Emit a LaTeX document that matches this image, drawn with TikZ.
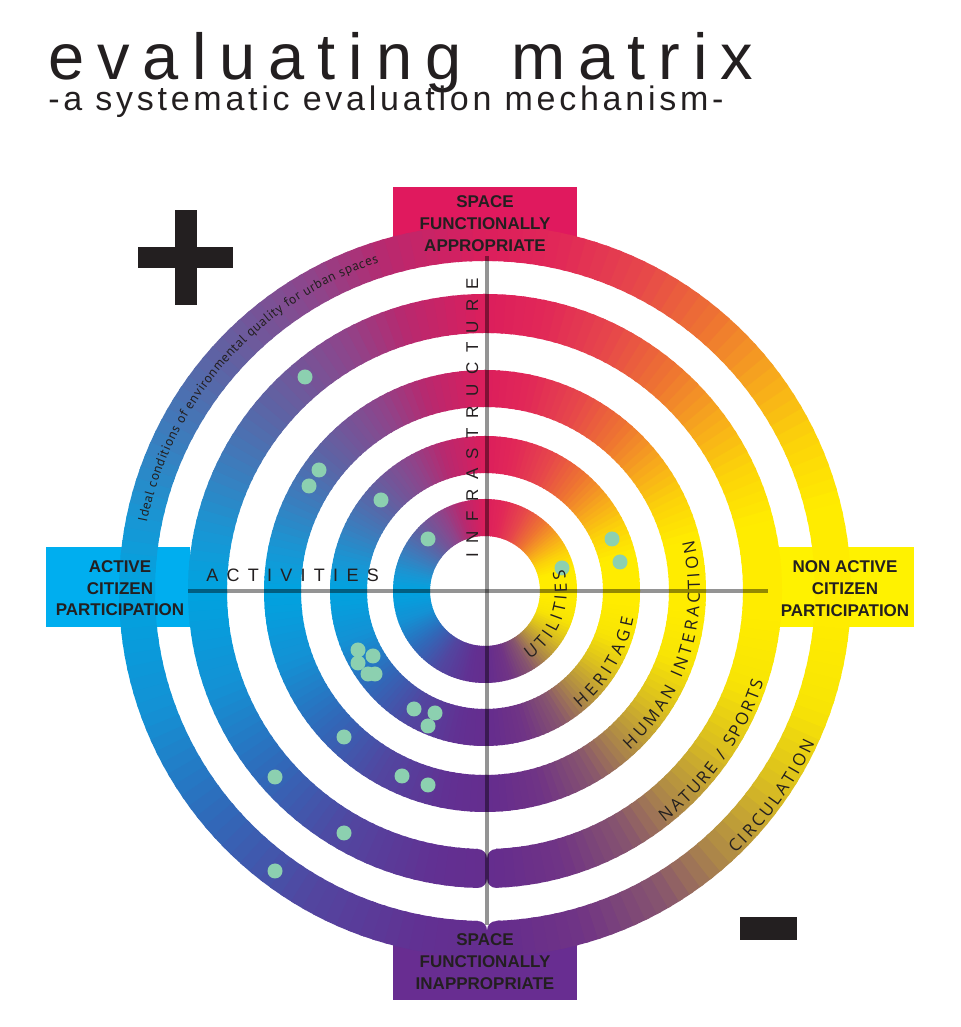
\documentclass[tikz,border=0pt]{standalone}
\usepackage{fontspec}
\setmainfont{Liberation Sans}
\newfontfamily\titlefont{Liberation Sans}[LetterSpace=20]
\newfontfamily\subfont{Liberation Sans}[LetterSpace=11]
\newfontfamily\infrafont{Liberation Sans}[LetterSpace=56]
\newfontfamily\actfont{Liberation Sans}[LetterSpace=46]
\newfontfamily\arcfont{Open Sans}
\newfontfamily\idealfont{PT Sans}
\usetikzlibrary{decorations.text}

\definecolor{txt}{RGB}{35,31,32}
\definecolor{pinkbox}{RGB}{224,25,94}
\definecolor{purplebox}{RGB}{104,45,145}
\definecolor{cyanbox}{RGB}{0,174,239}
\definecolor{yellowbox}{RGB}{255,242,0}
\definecolor{mint}{RGB}{140,208,176}
% conic gradient stops
\definecolor{s0}{RGB}{0,163,224}
\definecolor{s1}{RGB}{20,145,212}
\definecolor{s2}{RGB}{48,105,185}
\definecolor{s3}{RGB}{82,70,160}
\definecolor{s4}{RGB}{98,48,146}
\definecolor{s5}{RGB}{101,45,142}
\definecolor{s6}{RGB}{112,52,133}
\definecolor{s7}{RGB}{135,85,110}
\definecolor{s8}{RGB}{175,138,70}
\definecolor{s9}{RGB}{218,190,32}
\definecolor{s10}{RGB}{248,228,5}
\definecolor{s11}{RGB}{255,236,0}
\definecolor{s12}{RGB}{255,236,0}
\definecolor{s13}{RGB}{252,210,10}
\definecolor{s14}{RGB}{246,165,30}
\definecolor{s15}{RGB}{238,115,50}
\definecolor{s16}{RGB}{230,70,75}
\definecolor{s17}{RGB}{225,40,88}
\definecolor{s18}{RGB}{220,30,92}
\definecolor{s19}{RGB}{185,40,110}
\definecolor{s20}{RGB}{140,70,140}
\definecolor{s21}{RGB}{92,100,165}
\definecolor{s22}{RGB}{55,128,192}
\definecolor{s23}{RGB}{25,150,212}

\newcommand\boxlab{\fontsize{12.75pt}{15pt}\selectfont\bfseries}
\newcommand\arcsz{\arcfont\fontsize{12.75pt}{14pt}\selectfont}
\newcommand\idealsz{\idealfont\fontsize{10pt}{12pt}\selectfont}

\tikzset{
  boxtext/.style={anchor=base, inner sep=0pt, text=txt, font=\boxlab},
  axisline/.style={draw=black, draw opacity=0.42, line width=2.6pt},
  notch/.style={fill=white},
  dotmark/.style={fill=mint},
  signbar/.style={fill=txt},
}

\newcommand\arclabel[4]{%
  \path[decorate, decoration={text along path, text={|\arcsz|#1},
        text align=fit to path, text color=txt}]
    ([shift={(#2:#4)}]ctr) arc[start angle=#2, end angle=#3, radius=#4];}

\begin{document}
\begin{tikzpicture}[x=0.75pt,y=0.75pt]
\useasboundingbox (0,0) rectangle (960,1027);
\fill[white] (0,0) rectangle (960,1027);
\coordinate (ctr) at (485,436);

% boxes (under the rings)
\fill[pinkbox]   (393,840) rectangle (577,772);
\fill[purplebox] (393,102) rectangle (577,27);
\fill[cyanbox]   (46,480)  rectangle (190,400);
\fill[yellowbox] (778,480) rectangle (914,400);

% rings with conic gradient
\begin{scope}[shift={(ctr)}]
  \clip (366,0) arc[start angle=0,end angle=360,radius=366] -- cycle
        (330,0) arc[start angle=360,end angle=0,radius=330] -- cycle
        (297,0) arc[start angle=0,end angle=360,radius=297] -- cycle
        (258,0) arc[start angle=360,end angle=0,radius=258] -- cycle
        (221,0) arc[start angle=0,end angle=360,radius=221] -- cycle
        (184,0) arc[start angle=360,end angle=0,radius=184] -- cycle
        (155,0) arc[start angle=0,end angle=360,radius=155] -- cycle
        (118,0) arc[start angle=360,end angle=0,radius=118] -- cycle
        (92,0)  arc[start angle=0,end angle=360,radius=92] -- cycle
        (55,0)  arc[start angle=360,end angle=0,radius=55] -- cycle;
  \foreach \aa/\ab/\ca/\cb in {-180/-160/s0/s1,-160/-140/s1/s2,-140/-120/s2/s3,
      -120/-100/s3/s4,-100/-88/s4/s5,-88/-74/s5/s6,-74/-60/s6/s7,-60/-48/s7/s8,
      -48/-34/s8/s9,-34/-20/s9/s10,-20/-6/s10/s11,-6/14/s11/s12,14/26/s12/s13,
      26/38/s13/s14,38/50/s14/s15,50/64/s15/s16,64/78/s16/s17,78/90/s17/s18,
      90/106/s18/s19,106/120/s19/s20,120/140/s20/s21,140/156/s21/s22,
      156/168/s22/s23,168/180/s23/s0}{
    \pgfmathtruncatemacro\nn{(\ab-(\aa))/2-1}
    \foreach \i in {0,...,\nn}{
      \pgfmathsetmacro\ta{\aa+2*\i}
      \pgfmathsetmacro\tb{\ta+2.7}
      \pgfmathtruncatemacro\pp{round(100*(2*\i+1)/(\ab-(\aa)))}
      \colorlet{segc}{\cb!\pp!\ca}
      \fill[segc] (0,0) -- (\ta:380) arc[start angle=\ta,end angle=\tb,radius=380] -- cycle;
    }
  }
\end{scope}

% pinched ends at the bottom of the two outer rings
\fill[notch] (478,178) arc[start angle=90,end angle=0,radius=9]
  arc[start angle=180,end angle=90,radius=9] -- (496,182) -- (478,182) -- cycle;
\fill[notch] (478,139) arc[start angle=-90,end angle=0,radius=9]
  arc[start angle=180,end angle=270,radius=9] -- (496,135) -- (478,135) -- cycle;
\fill[notch] (478,106) arc[start angle=90,end angle=0,radius=9]
  arc[start angle=180,end angle=90,radius=9] -- (496,110) -- (478,110) -- cycle;

% axes
\coordinate (vt) at (487,771);
\coordinate (vb) at (487,102);
\coordinate (hl) at (188,436);
\coordinate (hr) at (768,436);
\draw[axisline] (vt) -- (vb);
\draw[axisline] (hl) -- (hr);

% evaluation dots
\foreach \x/\y in {305/650,319/557,309/541,381/527,428/488,562/459,612/488,620/465,
   358/377,373/371,358/364,368/353,375/353,414/318,435/314,428/301,344/290,
   275/250,402/251,428/242,344/194,275/156}
  \fill[dotmark] (\x,\y) circle[radius=7.5];

% box labels
\node[boxtext] (t1) at (485,819) {SPACE};
\node[boxtext] (t2) at (485,797) {FUNCTIONALLY};
\node[boxtext] (t3) at (485,775) {APPROPRIATE};
\node[boxtext] (b1) at (485,81) {SPACE};
\node[boxtext] (b2) at (485,59) {FUNCTIONALLY};
\node[boxtext] (b3) at (485,37) {INAPPROPRIATE};
\node[boxtext] (l1) at (120,454) {ACTIVE};
\node[boxtext] (l2) at (120,432.5) {CITIZEN};
\node[boxtext] (l3) at (120,411) {PARTICIPATION};
\node[boxtext] (r1) at (845,454) {NON ACTIVE};
\node[boxtext] (r2) at (845,432) {CITIZEN};
\node[boxtext] (r3) at (845,410) {PARTICIPATION};

% axis labels
\node[anchor=base west, inner sep=0pt, rotate=90, text=txt,
      font=\infrafont\fontsize{12.75pt}{14pt}\selectfont] (infra) at (478,469) {INFRASTRUCTURE};
\node[anchor=base west, inner sep=0pt, text=txt,
      font=\actfont\fontsize{13.5pt}{15pt}\selectfont] (act) at (206,445) {ACTIVITIES};

% curved ring labels
\arclabel{UTILITIES}{-57}{15}{82}
\arclabel{HERITAGE}{-51}{-10.5}{151}
\arclabel{HUMAN INTERACTION}{-47.7}{13.7}{215}
\arclabel{NATURE / SPORTS}{-52.2}{-18}{293}
\arclabel{CIRCULATION}{-46.4}{-24.7}{363}
\path[decorate, decoration={text along path,
      text={|\idealsz|Ideal conditions of environmental quality for urban spaces},
      text align=fit to path, text color=txt}]
  ([shift={(168.5:345)}]ctr) arc[start angle=168.5, end angle=108, radius=345];

% plus and minus signs
\fill[signbar] (138,780) rectangle (233,759);
\fill[signbar] (175,817) rectangle (197,722);
\fill[signbar] (740,110) rectangle (797,87);

% title
\node[anchor=base west, inner sep=0pt, text=txt,
      font=\titlefont\fontsize{48.75pt}{50pt}\selectfont] (title) at (48,947) {evaluating\hspace*{14pt} matrix};
\node[anchor=base west, inner sep=0pt, text=txt,
      font=\subfont\fontsize{25.5pt}{27pt}\selectfont] (subtitle) at (48,916) {-a systematic evaluation mechanism-};
\end{tikzpicture}
\end{document}
